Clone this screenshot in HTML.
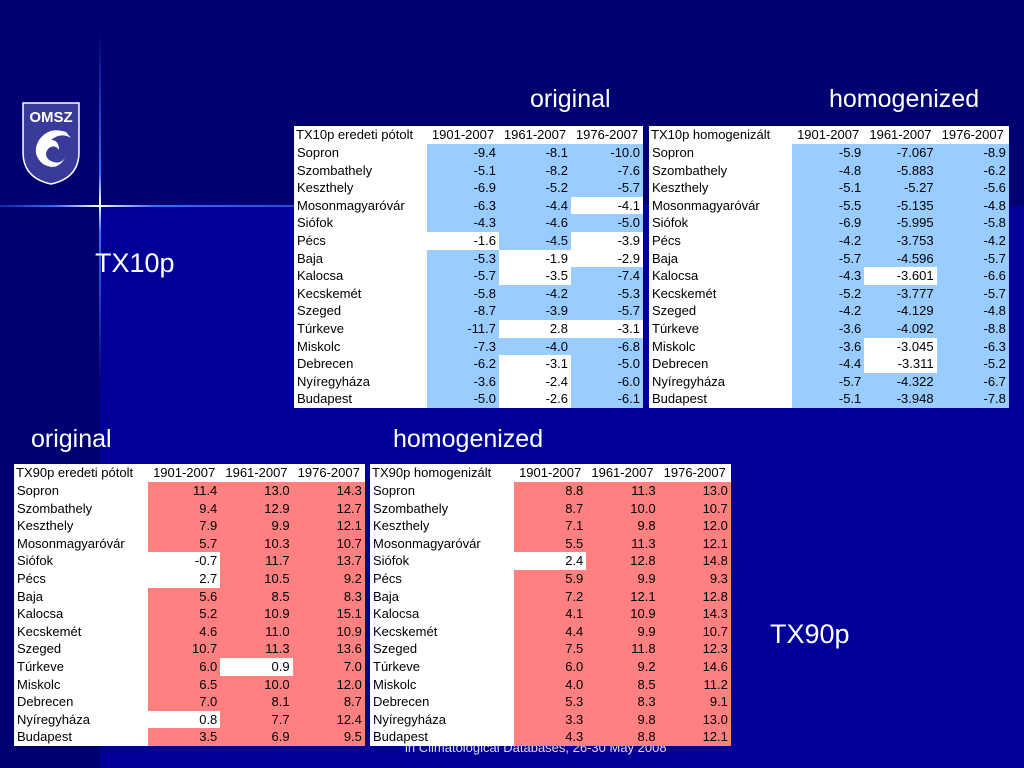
<!DOCTYPE html>
<html><head><meta charset="utf-8">
<style>
body{margin:0;width:1024px;height:768px;overflow:hidden;background:#000070;font-family:"Liberation Sans",sans-serif;position:relative}
.bg2{position:absolute;left:100px;top:206px;width:924px;height:562px;background:#000099}
.vl{position:absolute;left:99px;top:30px;width:2px;height:360px;background:linear-gradient(#000070,#3a6cff 40%,#fff 48%,#3a6cff 56%,#000070)}
.hl{position:absolute;left:0;top:205px;width:700px;height:2px;background:linear-gradient(90deg,#0a2aa0,#3a6cff 8%,#fff 14%,#3a6cff 22%,#1030b0 60%,#000099)}
.t{position:absolute;color:#fff;font-size:25px}
table.d{position:absolute;border-collapse:collapse;background:#fff;font-size:13px;table-layout:fixed;font-family:"Liberation Sans",sans-serif}
table.d td{padding:0 3px;height:17.6px;line-height:17.6px;white-space:nowrap;overflow:hidden}
table.d td.n{text-align:left}
table.d td.v{text-align:right}
table.d tr.h td{height:18px;text-align:center;padding:0 2px}
table.d tr.h td:first-child{text-align:left}
.foot{position:absolute;left:405px;top:740px;color:#dde;font-size:13px}
</style></head><body>
<div class="bg2"></div>
<div class="vl"></div>
<div class="hl"></div>
<svg style="position:absolute;left:21px;top:102px" width="60" height="83">
<path d="M2 1 H58 V50 Q58 76 30 82 Q2 76 2 50 Z" fill="#3a3a9a" stroke="#fff" stroke-width="1.5"/>
<text x="30" y="20" fill="#fff" font-size="15" font-weight="bold" text-anchor="middle" font-family="Liberation Sans">OMSZ</text>
<path d="M45 30 Q28 24 18 38 Q10 52 22 62 Q36 70 44 56 Q38 64 28 58 Q22 52 28 46 Q34 42 38 48 Q38 38 30 38 Q40 30 50 36 Z" fill="#fff"/>
</svg>
<div class="t" style="left:530px;top:85px">original</div>
<div class="t" style="left:829px;top:85px">homogenized</div>
<div class="t" style="left:95px;top:248px;font-size:27px">TX10p</div>
<div class="t" style="left:31px;top:425px">original</div>
<div class="t" style="left:393px;top:425px">homogenized</div>
<div class="t" style="left:770px;top:619px;font-size:27px">TX90p</div>
<div class="foot">in Climatological Databases, 26-30 May 2008</div>
<script>
const stations=["Sopron","Szombathely","Keszthely","Mosonmagyaróvár","Siófok","Pécs","Baja","Kalocsa","Kecskemét","Szeged","Túrkeve","Miskolc","Debrecen","Nyíregyháza","Budapest"];
const periods=["1901-2007","1961-2007","1976-2007"];
const tx10o=[["-9.4","-8.1","-10.0"],["-5.1","-8.2","-7.6"],["-6.9","-5.2","-5.7"],["-6.3","-4.4","-4.1"],["-4.3","-4.6","-5.0"],["-1.6","-4.5","-3.9"],["-5.3","-1.9","-2.9"],["-5.7","-3.5","-7.4"],["-5.8","-4.2","-5.3"],["-8.7","-3.9","-5.7"],["-11.7","2.8","-3.1"],["-7.3","-4.0","-6.8"],["-6.2","-3.1","-5.0"],["-3.6","-2.4","-6.0"],["-5.0","-2.6","-6.1"]];
const tx10oW=[[0,0,0],[0,0,0],[0,0,0],[0,0,1],[0,0,0],[1,0,1],[0,1,1],[0,1,0],[0,0,0],[0,0,0],[0,1,1],[0,0,0],[0,1,0],[0,1,0],[0,1,0]];
const tx10h=[["-5.9","-7.067","-8.9"],["-4.8","-5.883","-6.2"],["-5.1","-5.27","-5.6"],["-5.5","-5.135","-4.8"],["-6.9","-5.995","-5.8"],["-4.2","-3.753","-4.2"],["-5.7","-4.596","-5.7"],["-4.3","-3.601","-6.6"],["-5.2","-3.777","-5.7"],["-4.2","-4.129","-4.8"],["-3.6","-4.092","-8.8"],["-3.6","-3.045","-6.3"],["-4.4","-3.311","-5.2"],["-5.7","-4.322","-6.7"],["-5.1","-3.948","-7.8"]];
const tx10hW=[[0,0,0],[0,0,0],[0,0,0],[0,0,0],[0,0,0],[0,0,0],[0,0,0],[0,1,0],[0,0,0],[0,0,0],[0,0,0],[0,1,0],[0,1,0],[0,0,0],[0,0,0]];
const tx90o=[["11.4","13.0","14.3"],["9.4","12.9","12.7"],["7.9","9.9","12.1"],["5.7","10.3","10.7"],["-0.7","11.7","13.7"],["2.7","10.5","9.2"],["5.6","8.5","8.3"],["5.2","10.9","15.1"],["4.6","11.0","10.9"],["10.7","11.3","13.6"],["6.0","0.9","7.0"],["6.5","10.0","12.0"],["7.0","8.1","8.7"],["0.8","7.7","12.4"],["3.5","6.9","9.5"]];
const tx90oW=[[0,0,0],[0,0,0],[0,0,0],[0,0,0],[1,0,0],[1,0,0],[0,0,0],[0,0,0],[0,0,0],[0,0,0],[0,1,0],[0,0,0],[0,0,0],[1,0,0],[0,0,0]];
const tx90h=[["8.8","11.3","13.0"],["8.7","10.0","10.7"],["7.1","9.8","12.0"],["5.5","11.3","12.1"],["2.4","12.8","14.8"],["5.9","9.9","9.3"],["7.2","12.1","12.8"],["4.1","10.9","14.3"],["4.4","9.9","10.7"],["7.5","11.8","12.3"],["6.0","9.2","14.6"],["4.0","8.5","11.2"],["5.3","8.3","9.1"],["3.3","9.8","13.0"],["4.3","8.8","12.1"]];
const tx90hW=[[0,0,0],[0,0,0],[0,0,0],[0,0,0],[1,0,0],[0,0,0],[0,0,0],[0,0,0],[0,0,0],[0,0,0],[0,0,0],[0,0,0],[0,0,0],[0,0,0],[0,0,0]];

function makeTable(name,title,vals,white,color,x,y,w0,wc){
  const t=document.createElement('table');
  t.className='d';
  
  
  t.style.left=x+'px';t.style.top=y+'px';t.style.width=(w0+3*wc)+'px';
  const cg=document.createElement('colgroup');
  [w0,wc,wc,wc].forEach(w=>{const c=document.createElement('col');c.style.width=w+'px';cg.appendChild(c);});
  t.appendChild(cg);
  const hr=document.createElement('tr');hr.className='h';
  [title].concat(periods).forEach(s=>{const td=document.createElement('td');td.textContent=s;hr.appendChild(td);});
  t.appendChild(hr);
  stations.forEach((s,i)=>{
    const tr=document.createElement('tr');
    
    
    const n=document.createElement('td');n.className='n';n.textContent=s;tr.appendChild(n);
    vals[i].forEach((v,j)=>{
      const td=document.createElement('td');td.className='v';td.textContent=v;
      td.style.background=white[i][j]?'#fff':color;
      
      
      tr.appendChild(td);
    });
    t.appendChild(tr);
  });
  document.body.appendChild(t);
}
makeTable('tx10p-original-table','TX10p eredeti pótolt',tx10o,tx10oW,'#99ccff',294,126,133,72);
makeTable('tx10p-homogenized-table',' TX10p homogenizált',tx10h,tx10hW,'#99ccff',649,126,143,72.3);
makeTable('tx90p-original-table','TX90p eredeti pótolt',tx90o,tx90oW,'#ff8080',14,464,134,72.3);
makeTable('tx90p-homogenized-table',' TX90p homogenizált',tx90h,tx90hW,'#ff8080',370,464,144,72.3);
</script>
</body></html>
